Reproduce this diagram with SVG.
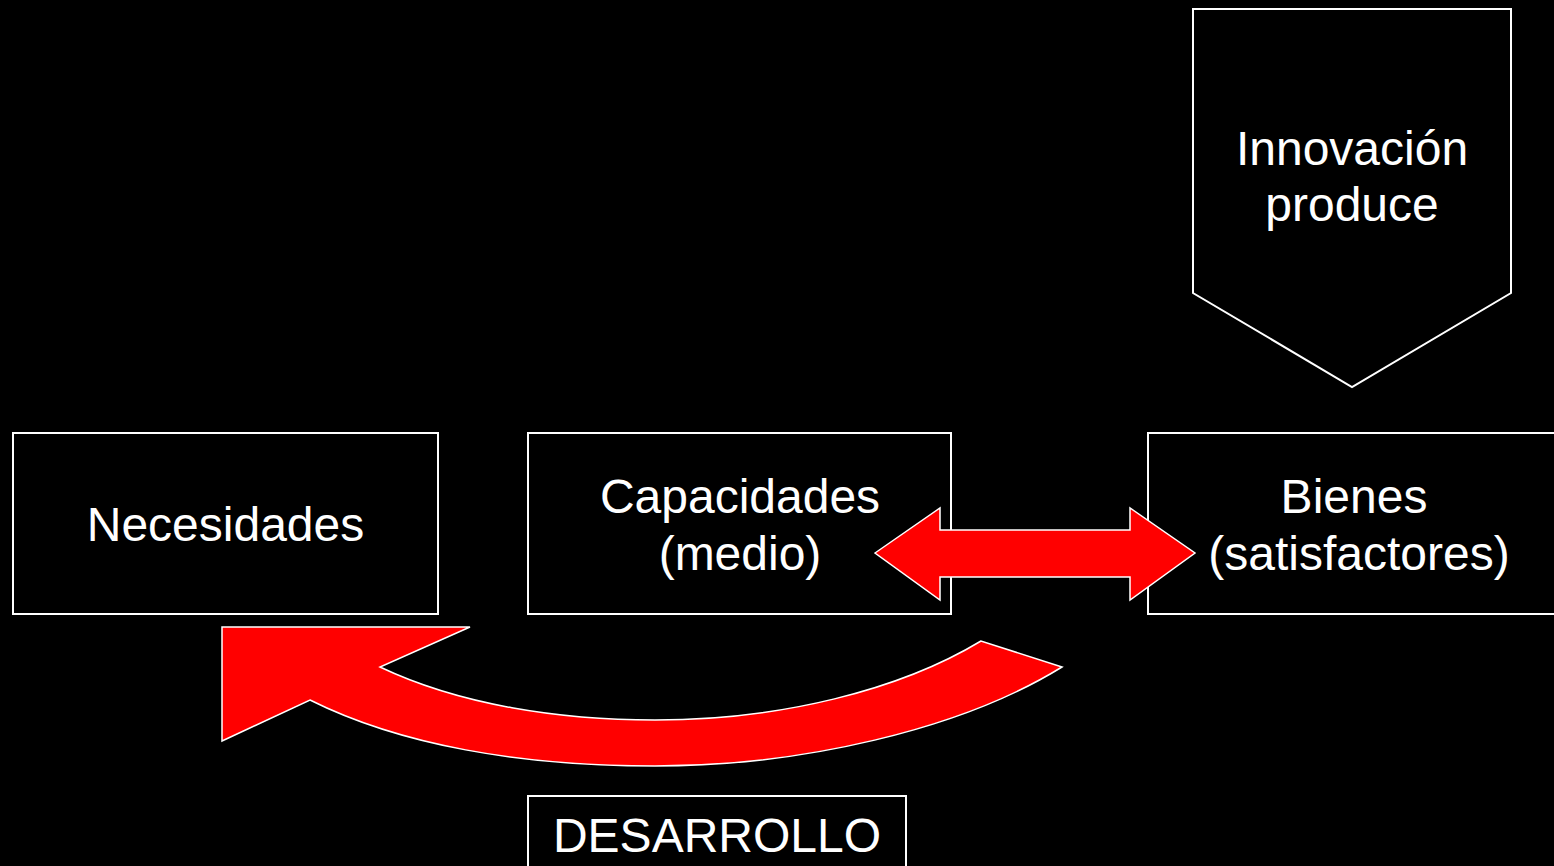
<svg xmlns="http://www.w3.org/2000/svg" width="1554" height="866" viewBox="0 0 1554 866">
<style>
.box{fill:#000;stroke:#fff;stroke-width:2}
.red{fill:#ff0000;stroke:#fff;stroke-width:1.5;stroke-linejoin:miter}
text{font-family:"Liberation Sans",Arial,sans-serif;font-size:48px;fill:#fff;text-anchor:middle}
</style>
<rect width="1554" height="866" fill="#000"/>
<g id="innovacion">
<polygon class="box" points="1193,9 1511,9 1511,293 1352,387 1193,293"/>
<text x="1352" y="165">Innovación</text>
<text x="1352" y="221">produce</text>
</g>
<g id="necesidades">
<rect class="box" x="13" y="433" width="425" height="181"/>
<text x="225.5" y="541">Necesidades</text>
</g>
<g id="capacidades">
<rect class="box" x="528" y="433" width="423" height="181"/>
<text x="740" y="513">Capacidades</text>
<text x="740" y="570">(medio)</text>
</g>
<g id="bienes">
<rect class="box" x="1148" y="433" width="420" height="181"/>
<text x="1354" y="513">Bienes</text>
<text x="1359" y="570">(satisfactores)</text>
</g>
<g id="desarrollo">
<rect class="box" x="528" y="796" width="378" height="90"/>
<text x="717" y="852">DESARROLLO</text>
</g>
<g id="connectors">
<polygon class="red" points="875,553 940,508 940,530 1130,530 1130,508 1195,553 1130,600 1130,577 940,577 940,600"/>
<path class="red" d="M222,627 L470,627 L380,667 C460,705 560,720 655,720 C780,720 900,690 981,641 L1062,667 C960,730 800,766 655,766 C520,766 400,745 310,700 L222,741 Z"/>
</g>
</svg>
